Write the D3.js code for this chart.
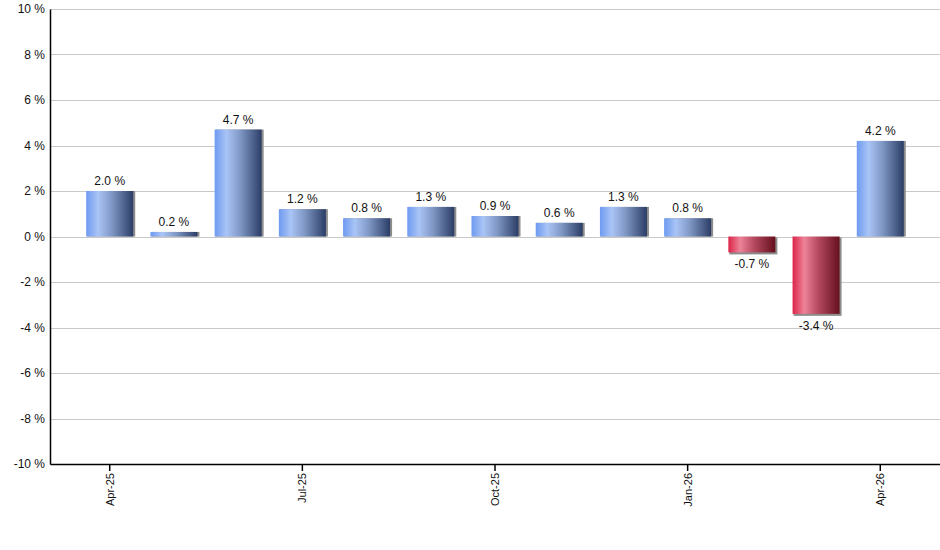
<!DOCTYPE html>
<html>
<head>
<meta charset="utf-8">
<script src="https://cdn.jsdelivr.net/npm/d3@7"></script>
<style>
  body { margin: 0; background: #fff; }
  text { font-family: "Liberation Sans", Arial, sans-serif; }
</style>
</head>
<body>
<div id="chart"></div>
<script>
// monthly returns, Apr-25 .. Apr-26
var months = ["Apr-25", "May-25", "Jun-25", "Jul-25", "Aug-25", "Sep-25", "Oct-25",
              "Nov-25", "Dec-25", "Jan-26", "Feb-26", "Mar-26", "Apr-26"];
var values = [2.0, 0.2, 4.7, 1.2, 0.8, 1.3, 0.9, 0.6, 1.3, 0.8, -0.7, -3.4, 4.2];
var tickLabels = ["Apr-25", "Jul-25", "Oct-25", "Jan-26", "Apr-26"];
var yTicks = [-10, -8, -6, -4, -2, 0, 2, 4, 6, 8, 10];

var W = 940, H = 550;
var margin = {top: 9, right: 0, bottom: 86, left: 50},
    width = W - margin.left - margin.right,
    height = H - margin.top - margin.bottom;

var svg = d3.select("#chart").append("svg")
    .attr("width", W)
    .attr("height", H);

// gradients for up / down bars
var defs = svg.append("defs");
function gradient(id, stops) {
  var g = defs.append("linearGradient").attr("id", id)
      .attr("x1", "0%").attr("x2", "100%").attr("y1", "0%").attr("y2", "0%");
  stops.forEach(function(s) {
    g.append("stop").attr("offset", s[0]).attr("stop-color", s[1]);
  });
}
gradient("gradUp", [["0%", "#6e9af0"], ["25%", "#a9c4f6"], ["55%", "#7f97c4"], ["100%", "#2b3d66"]]);
gradient("gradDown", [["0%", "#dc2448"], ["25%", "#ec8398"], ["55%", "#b4485f"], ["100%", "#66101f"]]);

var g = svg.append("g")
    .attr("transform", "translate(" + margin.left + "," + margin.top + ")");

var x = d3.scaleBand()
    .domain(months)
    .range([0, width])
    .paddingInner(0.268)
    .paddingOuter(0.564);

var y = d3.scaleLinear()
    .domain([-10, 10])
    .range([height, 0]);

// grid lines
g.selectAll(".grid")
    .data(yTicks)
  .enter().append("line")
    .attr("x1", 0)
    .attr("x2", width)
    .attr("y1", function(d) { return Math.round(y(d)) + 0.5; })
    .attr("y2", function(d) { return Math.round(y(d)) + 0.5; })
    .attr("stroke", "#c8c8c8")
    .attr("stroke-width", 1);

// bar shadows
g.selectAll(".shadow")
    .data(values)
  .enter().append("rect")
    .attr("x", function(d, i) { return x(months[i]) + 1; })
    .attr("width", x.bandwidth() + 1)
    .attr("y", function(d) { return Math.min(y(d), y(0)) + (d < 0 ? 1 : 0); })
    .attr("height", function(d) { return Math.abs(y(d) - y(0)) + (d < 0 ? 1 : 0); })
    .attr("fill", "#8c8c8c");

// bars
g.selectAll(".bar")
    .data(values)
  .enter().append("rect")
    .attr("class", "bar")
    .attr("x", function(d, i) { return x(months[i]); })
    .attr("width", x.bandwidth())
    .attr("y", function(d) { return Math.min(y(d), y(0)); })
    .attr("height", function(d) { return Math.abs(y(d) - y(0)); })
    .attr("fill", function(d) { return d < 0 ? "url(#gradDown)" : "url(#gradUp)"; });

// value labels
g.selectAll(".label")
    .data(values)
  .enter().append("text")
    .attr("x", function(d, i) { return x(months[i]) + x.bandwidth() / 2; })
    .attr("y", function(d) { return d < 0 ? y(d) + 16 : y(d) - 6; })
    .attr("text-anchor", "middle")
    .attr("font-size", "12px")
    .attr("fill", "#111")
    .text(function(d) { return d.toFixed(1) + " %"; });

// y axis
var yAxis = g.append("g")
    .call(d3.axisLeft(y).tickValues(yTicks).tickSize(0).tickPadding(5)
      .tickFormat(function(d) { return d + " %"; }));
yAxis.select(".domain").attr("stroke", "#000").attr("stroke-width", 1.5);
yAxis.selectAll("text").attr("font-size", "12px").attr("fill", "#111")
    .attr("font-family", "'Liberation Sans', Arial, sans-serif");

// x axis
var xAxis = g.append("g")
    .attr("transform", "translate(0," + height + ")")
    .call(d3.axisBottom(x).tickValues(tickLabels).tickSizeInner(7).tickSizeOuter(0));
xAxis.select(".domain").attr("stroke", "#000").attr("stroke-width", 1.5);
xAxis.selectAll(".tick line").attr("stroke", "#000").attr("stroke-width", 1.5);
xAxis.selectAll("text")
    .attr("font-size", "11px")
    .attr("fill", "#111")
    .attr("font-family", "'Liberation Sans', Arial, sans-serif")
    .attr("transform", "rotate(-90)")
    .attr("text-anchor", "end")
    .attr("x", -9)
    .attr("y", 0)
    .attr("dy", "0.35em");
</script>
</body>
</html>
